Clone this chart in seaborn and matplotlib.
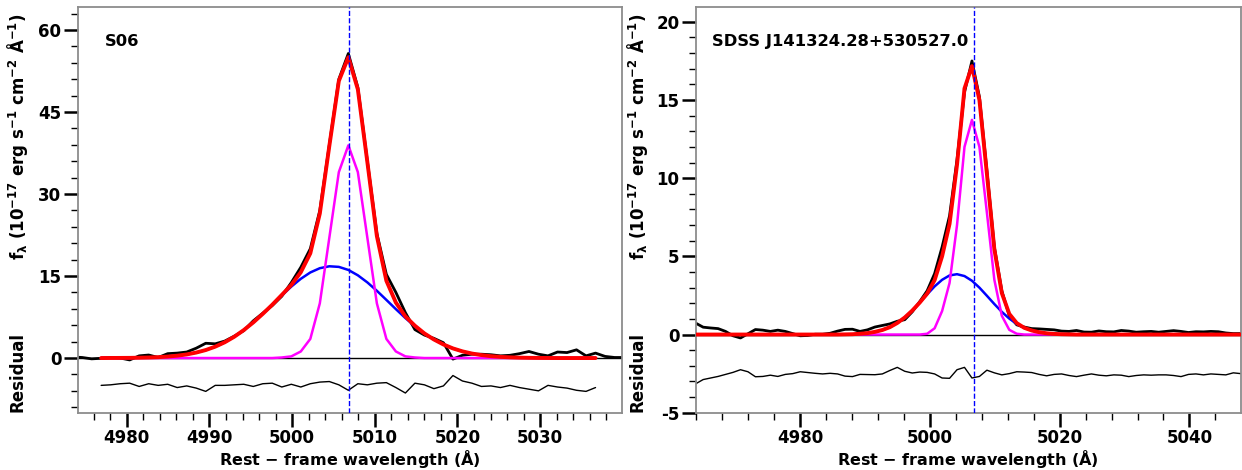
import matplotlib
matplotlib.use('Agg')
import matplotlib.pyplot as plt
import seaborn as sns
import numpy as np
from matplotlib.ticker import MultipleLocator

# ---- S06 ----
wave_s06 = [4973.45, 4974.60, 4975.75, 4976.90, 4978.05, 4979.20, 4980.35, 4981.50, 4982.65, 4983.80,
            4984.95, 4986.10, 4987.25, 4988.40, 4989.55, 4990.70, 4991.85, 4993.00, 4994.15, 4995.30,
            4996.45, 4997.60, 4998.75, 4999.90, 5001.05, 5002.20, 5003.35, 5004.50, 5005.65, 5006.80,
            5007.95, 5009.10, 5010.25, 5011.40, 5012.55, 5013.70, 5014.85, 5016.00, 5017.15, 5018.30,
            5019.45, 5020.60, 5021.75, 5022.90, 5024.05, 5025.20, 5026.35, 5027.50, 5028.65, 5029.80,
            5030.95, 5032.10, 5033.25, 5034.40, 5035.55, 5036.70, 5037.85, 5039.00, 5040.15]
flux_s06 = [0.2, 0.1, -0.15, -0.05, 0.1, 0.0, -0.35, 0.4, 0.55, 0.1,
            0.8, 0.9, 1.1, 1.8, 2.7, 2.6, 3.1, 4.0, 5.0, 6.8,
            8.2, 9.6, 11.3, 13.8, 16.6, 20.0, 27.0, 39.0, 51.0, 55.7,
            49.5, 36.0, 22.8, 15.3, 12.0, 8.3, 5.2, 4.2, 3.6, 2.8,
            -0.2, 0.5, 0.7, 0.7, 0.6, 0.4, 0.5, 0.8, 1.2, 0.7,
            0.4, 1.1, 1.0, 1.5, 0.4, 0.9, 0.3, 0.1, 0.1]
# model grid = wave_s06[3:56]
broad_s06 = [0.0, 0.01, 0.02, 0.03, 0.06, 0.10, 0.16, 0.27, 0.43, 0.66,
             1.00, 1.46, 2.08, 2.88, 3.89, 5.11, 6.51, 8.08, 9.75, 11.44,
             13.06, 14.49, 15.65, 16.43, 16.78, 16.67, 16.11, 15.13, 13.83, 12.30,
             10.63, 8.94, 7.31, 5.81, 4.50, 3.39, 2.48, 1.76, 1.22, 0.82,
             0.54, 0.34, 0.21, 0.13, 0.07, 0.04, 0.02, 0.01, 0.0, 0.0,
             0.0, 0.0, 0.0]
narrow_s06 = [0.0, 0.0, 0.0, 0.0, 0.0, 0.0, 0.0, 0.0, 0.0, 0.0,
              0.0, 0.0, 0.0, 0.0, 0.0, 0.0, 0.0, 0.0, 0.0, 0.1,
              0.3, 1.2, 3.5, 10.0, 22.0, 34.0, 38.9, 34.0, 22.0, 10.0,
              3.5, 1.2, 0.3, 0.1, 0.0, 0.0, 0.0, 0.0, 0.0, 0.0,
              0.0, 0.0, 0.0, 0.0, 0.0, 0.0, 0.0, 0.0, 0.0, 0.0,
              0.0, 0.0, 0.0]
resid_s06 = [-5.0, -4.9, -4.7, -4.6, -5.2, -4.7, -5.0, -4.8, -5.4, -5.1,
             -5.5, -6.1, -5.0, -5.0, -4.9, -4.8, -5.2, -4.7, -4.6, -5.3,
             -4.8, -5.3, -4.7, -4.4, -4.3, -4.9, -5.9, -4.7, -4.9, -4.6,
             -4.5, -5.4, -6.4, -4.6, -4.9, -5.6, -5.1, -3.2, -4.2, -4.6,
             -5.2, -5.1, -5.4, -5.0, -5.4, -5.7, -6.0, -5.0, -5.3, -5.5,
             -5.9, -6.1, -5.4]

# ---- SDSS J141324.28+530527.0 ----
wave_j1413 = [4963.95, 4965.10, 4966.25, 4967.40, 4968.55, 4969.70, 4970.85, 4972.00, 4973.15, 4974.30,
              4975.45, 4976.60, 4977.75, 4978.90, 4980.05, 4981.20, 4982.35, 4983.50, 4984.65, 4985.80,
              4986.95, 4988.10, 4989.25, 4990.40, 4991.55, 4992.70, 4993.85, 4995.00, 4996.15, 4997.30,
              4998.45, 4999.60, 5000.75, 5001.90, 5003.05, 5004.20, 5005.35, 5006.50, 5007.65, 5008.80,
              5009.95, 5011.10, 5012.25, 5013.40, 5014.55, 5015.70, 5016.85, 5018.00, 5019.15, 5020.30,
              5021.45, 5022.60, 5023.75, 5024.90, 5026.05, 5027.20, 5028.35, 5029.50, 5030.65, 5031.80,
              5032.95, 5034.10, 5035.25, 5036.40, 5037.55, 5038.70, 5039.85, 5041.00, 5042.15, 5043.30,
              5044.45, 5045.60, 5046.75, 5047.90]
flux_j1413 = [0.73, 0.47, 0.42, 0.38, 0.2, -0.08, -0.22, 0.05, 0.32, 0.28,
              0.2, 0.28, 0.2, 0.06, -0.08, -0.06, 0.02, 0.02, 0.08, 0.22,
              0.33, 0.34, 0.2, 0.3, 0.48, 0.58, 0.68, 0.85, 0.95, 1.45,
              2.1, 2.8, 3.9, 5.6, 7.6, 11.2, 15.5, 17.5, 15.2, 10.5,
              5.6, 2.8, 1.2, 0.62, 0.48, 0.38, 0.36, 0.33, 0.3, 0.22,
              0.2, 0.26, 0.16, 0.15, 0.23, 0.18, 0.17, 0.26, 0.22, 0.15,
              0.18, 0.2, 0.15, 0.2, 0.25, 0.2, 0.13, 0.18, 0.17, 0.2,
              0.18, 0.1, 0.06, 0.06]
broad_j1413 = [0.0, 0.0, 0.0, 0.0, 0.0, 0.0, 0.0, 0.0, 0.0, 0.0,
               0.0, 0.0, 0.0, 0.0, 0.0, 0.0, 0.0, 0.0, 0.0, 0.0,
               0.01, 0.02, 0.05, 0.09, 0.17, 0.29, 0.47, 0.74, 1.09, 1.53,
               2.04, 2.57, 3.08, 3.50, 3.78, 3.86, 3.74, 3.44, 3.00, 2.48,
               1.95, 1.45, 1.02, 0.68, 0.43, 0.26, 0.15, 0.08, 0.04, 0.02,
               0.01, 0.0, 0.0, 0.0, 0.0, 0.0, 0.0, 0.0, 0.0, 0.0,
               0.0, 0.0, 0.0, 0.0, 0.0, 0.0, 0.0, 0.0, 0.0, 0.0,
               0.0, 0.0, 0.0, 0.0]
narrow_j1413 = [0.0, 0.0, 0.0, 0.0, 0.0, 0.0, 0.0, 0.0, 0.0, 0.0,
                0.0, 0.0, 0.0, 0.0, 0.0, 0.0, 0.0, 0.0, 0.0, 0.0,
                0.0, 0.0, 0.0, 0.0, 0.0, 0.0, 0.0, 0.0, 0.0, 0.0,
                0.0, 0.05, 0.4, 1.5, 3.3, 7.0, 12.0, 13.73, 12.0, 7.8,
                3.5, 1.2, 0.3, 0.05, 0.0, 0.0, 0.0, 0.0, 0.0, 0.0,
                0.0, 0.0, 0.0, 0.0, 0.0, 0.0, 0.0, 0.0, 0.0, 0.0,
                0.0, 0.0, 0.0, 0.0, 0.0, 0.0, 0.0, 0.0, 0.0, 0.0,
                0.0, 0.0, 0.0, 0.0]
resid_j1413 = [-3.15, -2.88, -2.78, -2.68, -2.55, -2.42, -2.25, -2.38, -2.70, -2.68,
               -2.60, -2.68, -2.55, -2.50, -2.38, -2.43, -2.48, -2.52, -2.48, -2.52,
               -2.66, -2.69, -2.55, -2.56, -2.57, -2.52, -2.30, -2.10, -2.35, -2.46,
               -2.40, -2.42, -2.52, -2.78, -2.80, -2.25, -2.10, -2.78, -2.68, -2.28,
               -2.45, -2.58, -2.50, -2.38, -2.40, -2.43, -2.55, -2.64, -2.55, -2.52,
               -2.62, -2.69, -2.60, -2.52, -2.60, -2.64, -2.58, -2.60, -2.69, -2.62,
               -2.58, -2.60, -2.58, -2.58, -2.62, -2.69, -2.55, -2.52, -2.58, -2.52,
               -2.55, -2.58, -2.45, -2.50]

oiii_center = 5006.84

sns.set_style('ticks')
plt.rcParams['font.family'] = ['DejaVu Sans']
plt.rcParams['font.weight'] = 'bold'
plt.rcParams['mathtext.default'] = 'regular'
plt.rcParams['axes.unicode_minus'] = False
plt.rcParams['text.color'] = 'black'
plt.rcParams['axes.labelcolor'] = 'black'
plt.rcParams['xtick.color'] = 'black'
plt.rcParams['ytick.color'] = 'black'


def draw_panel(ax, wave, flux, wave_mod, broad, narrow, resid, name):
    total = np.array(broad) + np.array(narrow)
    ax.axhline(0, color='black', lw=1.0, zorder=1)
    sns.lineplot(x=wave, y=flux, ax=ax, color='black', lw=2.0, estimator=None, sort=False, zorder=2)
    sns.lineplot(x=wave_mod, y=broad, ax=ax, color='blue', lw=1.8, estimator=None, sort=False, zorder=3)
    sns.lineplot(x=wave_mod, y=narrow, ax=ax, color='magenta', lw=1.8, estimator=None, sort=False, zorder=3)
    sns.lineplot(x=wave_mod, y=total, ax=ax, color='red', lw=2.8, estimator=None, sort=False, zorder=4)
    sns.lineplot(x=wave_mod, y=resid, ax=ax, color='black', lw=1.0, estimator=None, sort=False, zorder=2)
    ax.axvline(oiii_center, color='blue', ls='--', lw=1.0, zorder=5)
    ax.text(0.03 if len(name) > 5 else 0.05, 0.915, name, transform=ax.transAxes,
            fontsize=11.8, fontweight='bold', va='center', ha='left', color='black')
    for sp in ax.spines.values():
        sp.set_color('#8c8c8c')
        sp.set_linewidth(1.3)
        sp.set_visible(True)
    ax.tick_params(which='major', direction='out', length=10, width=1.8, labelsize=12,
                   color='black', labelcolor='black', pad=2)
    ax.tick_params(which='minor', direction='out', length=5, width=1.0, color='black')
    ax.tick_params(top=False, right=False)
    ax.set_xlabel('Rest $-$ frame wavelength (Å)', fontsize=11.5, fontweight='bold', color='black')
    ax.xaxis.set_label_coords(0.5, -0.088)
    ax.xaxis.label.set_va('top')
    ax.set_ylabel('')


fig = plt.figure(figsize=(12.42, 4.70), dpi=100)
ax1 = fig.add_axes([0.0628, 0.1219, 0.4380, 0.8632])
ax2 = fig.add_axes([0.5604, 0.1219, 0.4386, 0.8632])

draw_panel(ax1, wave_s06, flux_s06, wave_s06[3:56], broad_s06, narrow_s06, resid_s06, 'S06')
ax1.set_xlim(4974.1, 5039.9)
ax1.set_ylim(-10.0, 64.2)
ax1.xaxis.set_major_locator(MultipleLocator(10))
ax1.xaxis.set_minor_locator(MultipleLocator(2))
ax1.set_yticks([0, 15, 30, 45, 60])
ax1.yaxis.set_minor_locator(MultipleLocator(3))

draw_panel(ax2, wave_j1413, flux_j1413, wave_j1413, broad_j1413, narrow_j1413, resid_j1413,
           'SDSS J141324.28+530527.0')
ax2.set_xlim(4964.0, 5047.9)
ax2.set_ylim(-5.0, 20.95)
ax2.xaxis.set_major_locator(MultipleLocator(20))
ax2.xaxis.set_minor_locator(MultipleLocator(4))
ax2.yaxis.set_major_locator(MultipleLocator(5))
ax2.yaxis.set_minor_locator(MultipleLocator(1))

for ax in (ax1, ax2):
    for lab in ax.get_xticklabels() + ax.get_yticklabels():
        lab.set_fontweight('bold')

ylab = 'f$_\\lambda$ (10$^{-17}$ erg s$^{-1}$ cm$^{-2}$ Å$^{-1}$)'
fig.text(18 / 1242, 1 - 137 / 470, ylab, rotation=90, ha='center', va='center', fontsize=12, fontweight='bold')
fig.text(18 / 1242, 1 - 372 / 470, 'Residual', rotation=90, ha='center', va='center', fontsize=12, fontweight='bold')
fig.text(638 / 1242, 1 - 137 / 470, ylab, rotation=90, ha='center', va='center', fontsize=12, fontweight='bold')
fig.text(638 / 1242, 1 - 372 / 470, 'Residual', rotation=90, ha='center', va='center', fontsize=12, fontweight='bold')

fig.savefig('out.png', dpi=100)
